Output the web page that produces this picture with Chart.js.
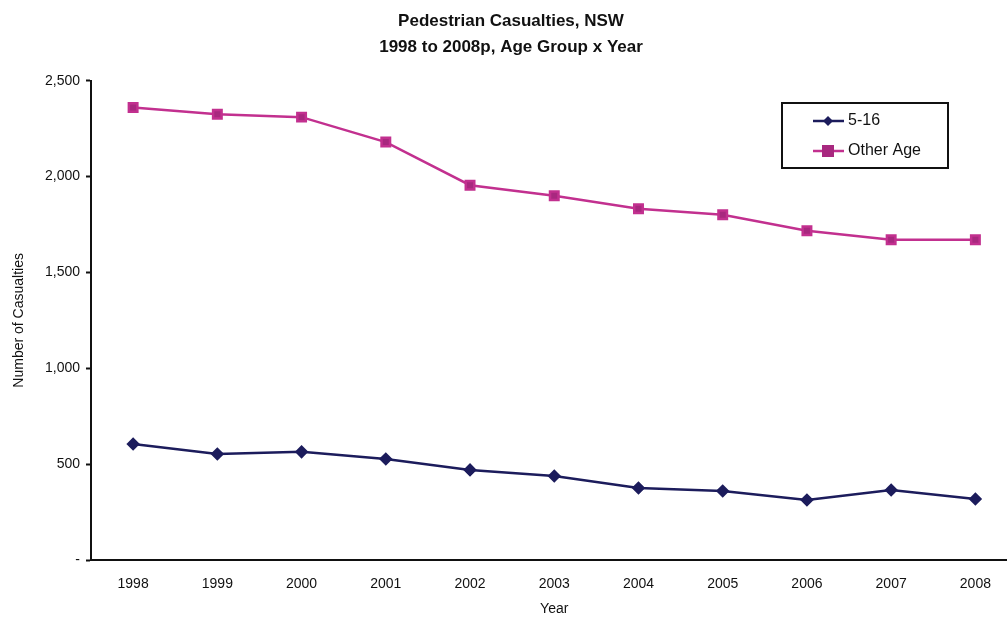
<!DOCTYPE html>
<html lang="en">
<head>
  <meta charset="UTF-8" />
  <title>Pedestrian Casualties, NSW</title>
  <script src="https://cdn.jsdelivr.net/npm/chart.js"></script>
  <style>
    body { margin: 0; padding: 0; background: #fff; overflow: hidden; }
    #wrap { position: absolute; left: 0; top: 0; width: 1026px; height: 618px; }
  </style>
</head>
<body>
  <div id="wrap"><canvas id="casualtyChart"></canvas></div>

  <script>
    const years = ['1998', '1999', '2000', '2001', '2002', '2003', '2004', '2005', '2006', '2007', '2008'];
    const age5to16 = [605, 553, 564, 527, 470, 438, 376, 360, 313, 365, 318];
    const otherAge = [2360, 2325, 2310, 2180, 1955, 1900, 1832, 1801, 1717, 1670, 1670];
    const yTicks = [0, 500, 1000, 1500, 2000, 2500];

    const navy = '#1c1c5c';
    const magenta = '#c2308f';
    const font = "'Liberation Sans', Arial, sans-serif";

    // legend drawn as a boxed key like the original
    const boxLegend = {
      id: 'boxLegend',
      afterDraw(chart) {
        const ctx = chart.ctx;
        const x = 782, y = 103, w = 166, h = 65;
        ctx.save();
        ctx.strokeStyle = '#111';
        ctx.lineWidth = 2;
        ctx.strokeRect(x, y, w, h);
        ctx.font = '16px ' + font;
        ctx.textBaseline = 'middle';
        chart.data.datasets.forEach((ds, i) => {
          const ly = y + 18 + i * 30;
          ctx.strokeStyle = ds.borderColor;
          ctx.lineWidth = 2.5;
          ctx.beginPath();
          ctx.moveTo(x + 31, ly);
          ctx.lineTo(x + 62, ly);
          ctx.stroke();
          ctx.fillStyle = ds.pointBackgroundColor;
          ctx.beginPath();
          if (ds.pointStyle === 'rectRot') {
            ctx.moveTo(x + 46, ly - 5);
            ctx.lineTo(x + 51, ly);
            ctx.lineTo(x + 46, ly + 5);
            ctx.lineTo(x + 41, ly);
            ctx.closePath();
          } else {
            ctx.rect(x + 40, ly - 6, 12, 12);
          }
          ctx.fill();
          ctx.fillStyle = '#111';
          ctx.fillText(ds.label, x + 66, ly);
        });
        ctx.restore();
      }
    };

    new Chart(document.getElementById('casualtyChart'), {
      type: 'line',
      data: {
        labels: years,
        datasets: [{
          label: '5-16',
          data: age5to16,
          borderColor: navy,
          backgroundColor: navy,
          pointBackgroundColor: navy,
          pointBorderColor: navy,
          pointStyle: 'rectRot',
          pointRadius: 5,
          borderWidth: 2.5,
          tension: 0
        }, {
          label: 'Other Age',
          data: otherAge,
          borderColor: magenta,
          backgroundColor: '#a8287f',
          pointBackgroundColor: '#a8287f',
          pointBorderColor: magenta,
          pointStyle: 'rect',
          pointRadius: 6,
          borderWidth: 2.5,
          tension: 0
        }]
      },
      options: {
        responsive: true,
        maintainAspectRatio: false,
        animation: false,
        layout: { padding: { left: 0, right: 4, top: 0, bottom: 0 } },
        plugins: {
          legend: { display: false },
          tooltip: { enabled: false },
          title: {
            display: true,
            text: ['Pedestrian Casualties, NSW', '1998 to 2008p, Age Group x Year'],
            color: '#111',
            font: { family: font, size: 17, weight: 'bold', lineHeight: 1.55 },
            padding: { top: 8, bottom: 20 }
          }
        },
        scales: {
          x: {
            offset: true,
            grid: { display: false, drawTicks: false },
            border: { color: '#111', width: 2 },
            ticks: { color: '#111', font: { family: font, size: 14 }, padding: 16, maxRotation: 0 },
            title: { display: true, text: 'Year', color: '#111', font: { family: font, size: 14 }, padding: { top: 10, bottom: 0 } },
            afterFit(scale) { scale.height = 58; }
          },
          y: {
            min: 0,
            max: 2500,
            afterBuildTicks(scale) { scale.ticks = yTicks.map(v => ({ value: v })); },
            grid: { drawOnChartArea: false, tickLength: 5, color: '#111', tickWidth: 2 },
            border: { color: '#111', width: 2 },
            ticks: {
              color: '#111',
              font: { family: font, size: 14 },
              padding: 6,
              callback: v => v === 0 ? '-' : v.toLocaleString('en-US')
            },
            title: { display: true, text: 'Number of Casualties', color: '#111', font: { family: font, size: 14 }, padding: { top: 11, bottom: 4 } },
            afterFit(scale) { scale.width = 91; }
          }
        }
      },
      plugins: [boxLegend]
    });
  </script>
</body>
</html>
